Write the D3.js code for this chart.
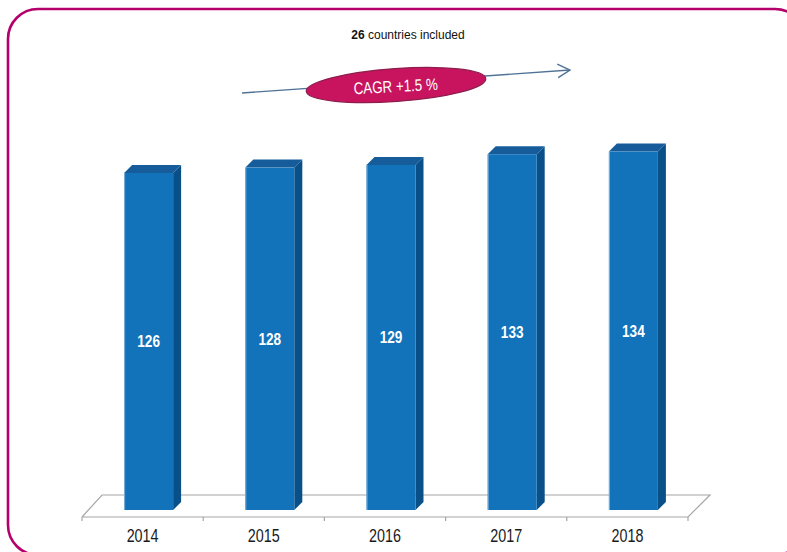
<!DOCTYPE html>
<html><head><meta charset="utf-8">
<script src="https://cdn.jsdelivr.net/npm/d3@7"></script>
<style>body{margin:0;background:#fff}svg{display:block}</style>
</head><body>
<svg id="c" width="787" height="552"></svg>
<script>
const years = ["2014","2015","2016","2017","2018"];
const values = [126,128,129,133,134];
const countries = 26;
const cagrLabel = "CAGR +1.5 %";

const svg = d3.select("#c");
const W = 787, H = 552;

// frame
svg.append("rect").attr("x",8).attr("y",9).attr("width",797).attr("height",546)
  .attr("rx",30).attr("ry",30).attr("fill","none").attr("stroke","#B5006B").attr("stroke-width",2.6);

const x = d3.scaleBand().domain(years).range([82,688]).padding(0);
const y = d3.scaleLinear().domain([0,140]).range([510,510-140*2.675]);

const floorFront = 517, floorBack = 495, floorDx = 20;
// floor
const fl = d3.line();
svg.append("path").attr("d", fl([[82,floorFront],[82+floorDx,floorBack],[688+floorDx+2,floorBack],[688,floorFront],[82,floorFront]]))
  .attr("fill","none").attr("stroke","#A6A6A6").attr("stroke-width",1.2);

// ticks
const tickPos = years.map(d=>x(d)).concat([x(years[years.length-1])+x.bandwidth()]);
svg.selectAll(".tick").data(tickPos).join("line")
  .attr("x1",d=>d).attr("x2",d=>d).attr("y1",floorFront).attr("y2",floorFront+4)
  .attr("stroke","#A6A6A6").attr("stroke-width",1.2);

// bars
const bw = 49, off = 6, dep = 8;
const g = svg.selectAll(".bar").data(years.map((yr,i)=>({yr,v:values[i]}))).join("g");
g.each(function(d){
  const s = d3.select(this);
  const x0 = x(d.yr) + x.bandwidth()/2 - bw/2 + off;
  const x1 = x0 + bw;
  const yt = y(d.v), yb = y(0);
  // side
  s.append("path").attr("d", fl([[x1,yt],[x1+dep,yt-dep],[x1+dep,yb-dep],[x1,yb]])+"Z")
    .attr("fill","#0A5088");
  // top
  s.append("path").attr("d", fl([[x0,yt],[x0+dep,yt-dep],[x1+dep,yt-dep],[x1,yt]])+"Z")
    .attr("fill","#165C9B");
  // front
  s.append("rect").attr("x",x0).attr("y",yt).attr("width",bw).attr("height",yb-yt)
    .attr("fill","#1273BA");
  s.append("line").attr("x1",x0+0.5).attr("x2",x0+0.5).attr("y1",yt).attr("y2",yb)
    .attr("stroke","#7FB0DA").attr("stroke-width",1);
  // value label
  s.append("text").attr("transform",`translate(${x0+bw/2},${(yt+yb)/2+6}) scale(0.8,1)`)
    .attr("text-anchor","middle").attr("font-family","Liberation Sans, Arial, sans-serif")
    .attr("font-weight","bold").attr("font-size",17).attr("fill","#fff").text(d.v);
});

// year labels
svg.selectAll(".yl").data(years).join("text")
  .attr("transform",d=>`translate(${x(d)+x.bandwidth()/2},542) scale(0.82,1)`)
  .attr("text-anchor","middle").attr("font-family","Liberation Sans, Arial, sans-serif")
  .attr("font-size",17.5).attr("fill","#1a1a1a").text(d=>d);

// title
const t = svg.append("text").attr("x",408).attr("y",38.5).attr("text-anchor","middle")
  .attr("font-family","Liberation Sans, Arial, sans-serif").attr("font-size",12).attr("fill","#111");
t.append("tspan").attr("font-weight","bold").text(countries);
t.append("tspan").text(" countries included");

// arrow
svg.append("line").attr("x1",242).attr("y1",93).attr("x2",570).attr("y2",70)
  .attr("stroke","#4F7296").attr("stroke-width",1.4);
const ang = Math.atan2(70-93,570-242);
const ah = 14, aw = 0.5;
svg.append("path").attr("d", fl([
  [570-ah*Math.cos(ang-aw), 70-ah*Math.sin(ang-aw)],[570,70],[570-ah*Math.cos(ang+aw), 70-ah*Math.sin(ang+aw)]]))
  .attr("fill","none").attr("stroke","#4F7296").attr("stroke-width",1.4);

// ellipse
svg.append("ellipse").attr("cx",396).attr("cy",85).attr("rx",90).attr("ry",16.5)
  .attr("transform","rotate(-4 396 85)")
  .attr("fill","#C8145F").attr("stroke","#8E1D4C").attr("stroke-width",1.2);
svg.append("text").attr("transform","translate(396,92) rotate(-3) scale(0.8,1)")
  .attr("text-anchor","middle").attr("font-family","Liberation Sans, Arial, sans-serif")
  .attr("font-size",16.7).attr("fill","#fff").text(cagrLabel);
</script>
</body></html>
